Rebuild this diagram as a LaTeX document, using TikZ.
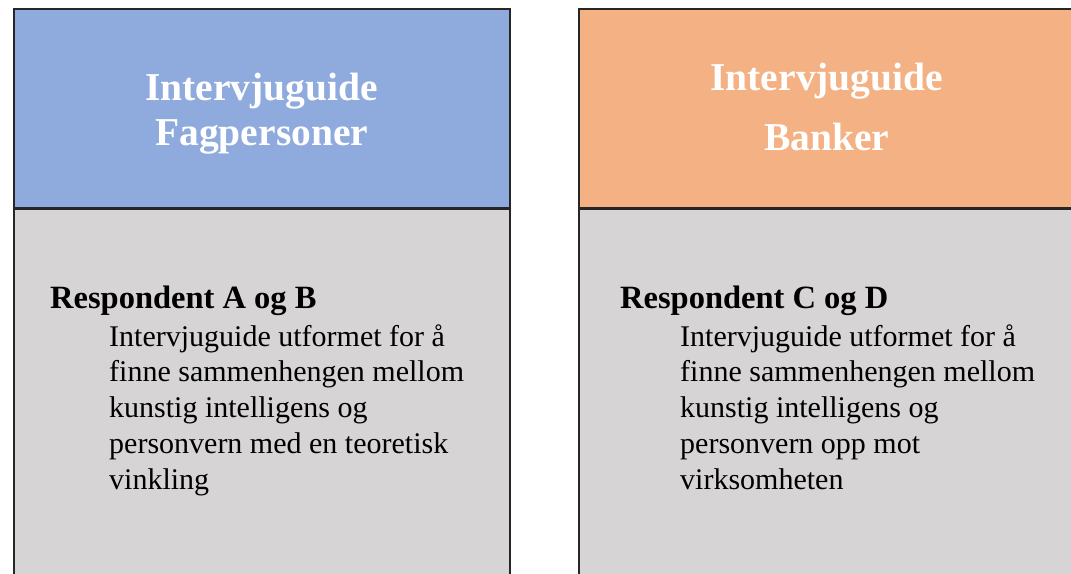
\documentclass[tikz,border=0pt]{standalone}
\usepackage{fontspec}
\setmainfont{Liberation Serif}
\usetikzlibrary{positioning}
\definecolor{guideblue}{RGB}{143, 170, 220}
\definecolor{guideorange}{RGB}{244, 177, 131}
\definecolor{guidegray}{RGB}{214, 212, 213}

\begin{document}
\begin{tikzpicture}[x=1pt, y=-1pt,
    header/.style={draw=black!85, line width=1.5pt, minimum width=496pt, minimum height=199pt,
        inner sep=0pt},
    title/.style={text=white, align=center, inner sep=0pt},
    bodybox/.style={draw=black!85, line width=1.5pt, fill=guidegray, minimum width=496pt,
        minimum height=420pt, inner sep=0pt},
    resp/.style={font=\fontsize{32.5}{36}\selectfont\bfseries, inner sep=0pt, anchor=base west},
    desc/.style={font=\fontsize{30}{35.7}\selectfont, align=left, inner sep=0pt, anchor=base west}]
  \useasboundingbox (0,0) rectangle (1071,573);
  \clip (0,0) rectangle (1071,573);
  % left column
  \node[header, fill=guideblue, anchor=north west] (hdrA) at (13,8) {};
  \node[title, font=\fontsize{39.5}{45}\selectfont\bfseries, yshift=-5pt]
      (titleA) at (hdrA.center) {Intervjuguide\\Fagpersoner};
  \node[bodybox, below=0pt of hdrA] (bodyA) {};
  \node[resp] (respA) at (50,308) {Respondent A og B};
  \node[desc] (descA) at (109,489) {Intervjuguide utformet for å\\finne sammenhengen mellom\\
      kunstig intelligens og\\personvern med en teoretisk\\vinkling};
  % right column
  \node[header, fill=guideorange, anchor=north west] (hdrB) at (578,8) {};
  \node[title, font=\fontsize{39.5}{60}\selectfont\bfseries, yshift=1pt]
      (titleB) at (hdrB.center) {Intervjuguide\\Banker};
  \node[bodybox, below=0pt of hdrB] (bodyB) {};
  \node[resp] (respB) at (620,308) {Respondent C og D};
  \node[desc] (descB) at (680,489) {Intervjuguide utformet for å\\finne sammenhengen mellom\\
      kunstig intelligens og\\personvern opp mot\\virksomheten};
\end{tikzpicture}
\end{document}
